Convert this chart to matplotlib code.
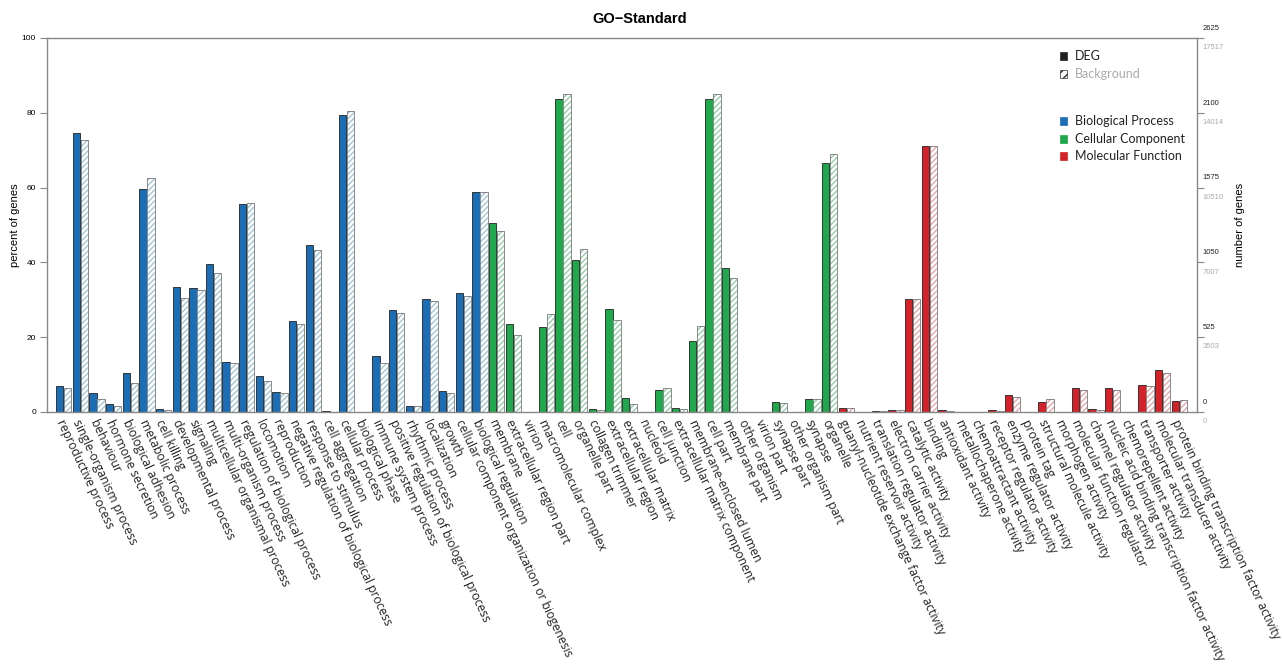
import matplotlib.pyplot as plt
import matplotlib.transforms as mtransforms
import numpy as np

bp_terms = ["reproductive process", "single-organism process", "behaviour", "hormone secretion",
            "biological adhesion", "metabolic process", "cell killing", "developmental process",
            "signaling", "multicellular organismal process", "multi-organism process",
            "regulation of biological process", "locomotion", "reproduction",
            "negative regulation of biological process", "response to stimulus", "cell aggregation",
            "cellular process", "biological phase", "immune system process",
            "positive regulation of biological process", "rhythmic process", "localization", "growth",
            "cellular component organization or biogenesis", "biological regulation"]
bp_deg = [7.0, 74.6, 5.1, 2.2, 10.3, 59.6, 0.7, 33.5, 33.1, 39.6, 13.3, 55.5, 9.6, 5.4,
          24.2, 44.7, 0.35, 79.5, 0.0, 15.1, 27.2, 1.5, 30.3, 5.5, 31.7, 58.8]
bp_bg = [6.5, 72.8, 3.6, 1.7, 7.8, 62.5, 0.6, 30.4, 32.6, 37.1, 13.1, 56.0, 8.3, 5.1,
         23.6, 43.2, 0.1, 80.4, 0.05, 13.0, 26.6, 1.6, 29.6, 5.0, 31.1, 58.8]

cc_terms = ["membrane", "extracellular region part", "virion", "macromolecular complex", "cell",
            "organelle part", "collagen trimmer", "extracellular region", "extracellular matrix",
            "nucleoid", "cell junction", "extracellular matrix component", "membrane-enclosed lumen",
            "cell part", "membrane part", "other organism", "virion part", "synapse part",
            "other organism part", "synapse", "organelle"]
cc_deg = [50.5, 23.5, 0.05, 22.6, 83.7, 40.6, 0.7, 27.6, 3.75, 0.1, 6.0, 1.1, 18.9,
          83.7, 38.6, 0.0, 0.05, 2.7, 0.0, 3.4, 66.5]
cc_bg = [48.4, 20.5, 0.05, 26.1, 85.1, 43.5, 0.5, 24.5, 2.2, 0.1, 6.3, 0.7, 22.9,
         85.1, 35.7, 0.02, 0.05, 2.5, 0.02, 3.4, 69.0]

mf_terms = ["guanyl-nucleotide exchange factor activity", "nutrient reservoir activity",
            "translation regulator activity", "electron carrier activity", "catalytic activity",
            "binding", "antioxidant activity", "metallochaperone activity", "chemoattractant activity",
            "receptor regulator activity", "enzyme regulator activity", "protein tag",
            "structural molecule activity", "morphogen activity", "molecular function regulator",
            "channel regulator activity", "nucleic acid binding transcription factor activity",
            "chemorepellent activity", "transporter activity", "molecular transducer activity",
            "protein binding transcription factor activity"]
mf_deg = [1.1, 0.0, 0.2, 0.45, 30.2, 71.0, 0.45, 0.0, 0.1, 0.45, 4.5, 0.0, 2.7, 0.0,
          6.4, 0.7, 6.4, 0.0, 7.3, 11.2, 2.9]
mf_bg = [1.1, 0.02, 0.2, 0.6, 30.2, 71.0, 0.35, 0.02, 0.1, 0.3, 4.0, 0.02, 3.6, 0.02,
         5.8, 0.6, 6.0, 0.02, 6.9, 10.3, 3.3]

right_deg_labels = ["0", "525", "1050", "1575", "2100", "2625"]
right_bg_labels = ["0", "3503", "7007", "10510", "14014", "17517"]

colors = {"bp": "#1b6db5", "cc": "#1fa84c", "mf": "#d3222a"}
hatch_colors = {"bp": "#a3c6d3", "cc": "#96cdaa", "mf": "#e6a6aa"}

terms = bp_terms + cc_terms + mf_terms
deg = bp_deg + cc_deg + mf_deg
bg = bp_bg + cc_bg + mf_bg
groups = ["bp"] * len(bp_terms) + ["cc"] * len(cc_terms) + ["mf"] * len(mf_terms)

plt.rcParams['hatch.linewidth'] = 1.0

fig = plt.figure(figsize=(12.82, 6.71), dpi=100)
ax = fig.add_axes([47 / 1282, 1 - 412 / 671, 1150 / 1282, 374 / 671])

x = np.arange(len(terms))
w = 0.44
for i in range(len(terms)):
    g = groups[i]
    ax.bar(x[i] - 0.24, deg[i], width=w, color=colors[g], edgecolor="#222222", linewidth=0.6)
    # hatched background bar, then its grey outline
    ax.bar(x[i] + 0.24, bg[i], width=w, color="white", edgecolor=hatch_colors[g],
           hatch="//////", linewidth=0)
    ax.bar(x[i] + 0.24, bg[i], width=w, fill=False, edgecolor="#777777", linewidth=0.6)

ax.set_xlim(-1.0, 68.07)
ax.set_ylim(0, 100)
for s in ax.spines.values():
    s.set_color("#888888")
    s.set_linewidth(1.0)
ax.set_xticks([])
ax.set_yticks([0, 20, 40, 60, 80, 100])
ax.tick_params(axis="y", length=5, color="#888888", labelsize=6, pad=3)
for lab in ax.get_yticklabels():
    lab.set_family("Liberation Sans")
fig.text(15 / 1282, 1 - 225 / 671, "percent of genes", rotation=90, fontsize=8,
         family="Liberation Sans", ha="center", va="center")

# category labels
trans = mtransforms.blended_transform_factory(ax.transData, ax.transAxes)
for i, t in enumerate(terms):
    ax.text(x[i] - 0.25, -0.022, t, transform=trans, rotation=-65, rotation_mode="anchor",
            ha="left", va="center", fontsize=8.75, family="Open Sans", color="#222222")

# right axis
ax2 = ax.twinx()
ax2.set_ylim(0, 100)
ax2.set_yticks([0, 20, 40, 60, 80, 100])
ax2.set_yticklabels([])
ax2.tick_params(axis="y", length=5, color="#888888")
for s in ax2.spines.values():
    s.set_visible(False)
rtrans = mtransforms.blended_transform_factory(ax2.transAxes, ax2.transData)
for k, v in enumerate([0, 20, 40, 60, 80, 100]):
    ax2.text(1.005, v + 2.6, right_deg_labels[k], transform=rtrans, fontsize=5.5,
             family="Liberation Sans", color="#222222", va="center", ha="left")
    ax2.text(1.005, v - 2.6, right_bg_labels[k], transform=rtrans, fontsize=5.5,
             family="Liberation Sans", color="#aaaaaa", va="center", ha="left")
fig.text(1240 / 1282, 1 - 225 / 671, "number of genes", rotation=90, fontsize=8,
         family="Liberation Sans", ha="center", va="center")

fig.text(640 / 1282, 1 - 19 / 671, "GO\u2212Standard", fontsize=10.5, fontweight="bold",
         family="Liberation Sans", ha="center", va="center")

# legend
lx = 1060 / 1282
leg = [("DEG", "#222222", "#222222", None, 56),
       ("Background", "white", "#aaaaaa", "////", 74),
       ("Biological Process", colors["bp"], "#222222", None, 121),
       ("Cellular Component", colors["cc"], "#222222", None, 139),
       ("Molecular Function", colors["mf"], "#222222", None, 156)]
for name, fc, tc, hatch, yy in leg:
    yf = 1 - yy / 671
    r = plt.Rectangle((lx, yf - 4 / 671), 7 / 1282, 8 / 671, transform=fig.transFigure,
                      facecolor=fc, edgecolor="#333333" if hatch else fc, hatch=hatch, linewidth=0.5)
    fig.patches.append(r)
    fig.text(lx + 15 / 1282, yf, name, fontsize=9, family="Lato", va="center", ha="left",
             color=tc)

fig.savefig("out.png", dpi=100)
